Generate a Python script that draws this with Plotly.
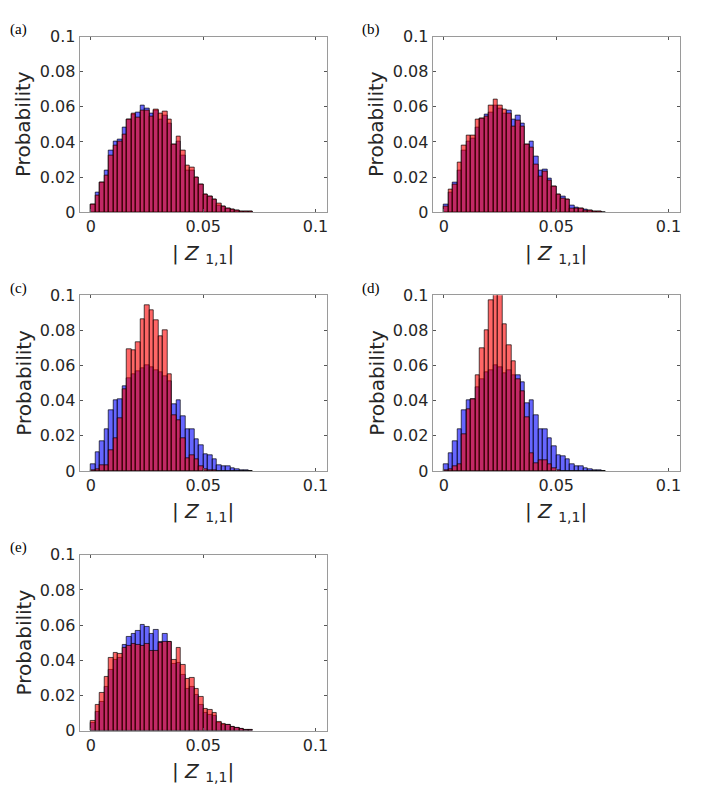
import plotly.graph_objects as go

# bin edges 0, 0.002, ... ; values are probabilities per bin
bin_width = 0.002
n_bins = 36
bin_centers = [bin_width * (k + 0.5) for k in range(n_bins)]

blue_a = [0.0046, 0.011, 0.017, 0.0237, 0.035, 0.040, 0.0415, 0.048, 0.053, 0.0556,
          0.057, 0.0606, 0.059, 0.056, 0.058, 0.0528, 0.055, 0.0507, 0.0383, 0.040,
          0.032, 0.024, 0.024, 0.020, 0.0157, 0.0102, 0.0087, 0.007, 0.0041, 0.0031,
          0.0019, 0.0013, 0.0009, 0.0006, 0.0004, 0.0002]
red_a = [0.0046, 0.0094, 0.017, 0.021, 0.032, 0.038, 0.040, 0.0444, 0.053, 0.0563,
         0.054, 0.0578, 0.0578, 0.0544, 0.0585, 0.0561, 0.0572, 0.0526, 0.0383, 0.0433,
         0.035, 0.0263, 0.0256, 0.020, 0.0157, 0.0102, 0.0087, 0.007, 0.0052, 0.0033,
         0.002, 0.0013, 0.0009, 0.0006, 0.0004, 0.0002]

blue_b = [0.0044, 0.011, 0.017, 0.0237, 0.035, 0.040, 0.0417, 0.048, 0.0533, 0.0556,
          0.0569, 0.0606, 0.059, 0.056, 0.0578, 0.053, 0.055, 0.0505, 0.0383, 0.0404,
          0.0317, 0.0237, 0.0244, 0.0193, 0.0148, 0.010, 0.0087, 0.007, 0.0037, 0.0026,
          0.0022, 0.0013, 0.0011, 0.0005, 0.0003, 0.0001]
red_b = [0.0033, 0.013, 0.016, 0.0283, 0.038, 0.0439, 0.0439, 0.053, 0.0533, 0.0544,
         0.0606, 0.0643, 0.061, 0.0583, 0.056, 0.0485, 0.052, 0.0485, 0.0383, 0.037,
         0.0272, 0.0204, 0.023, 0.018, 0.0148, 0.010, 0.008, 0.007, 0.0022, 0.0019,
         0.002, 0.0007, 0.0011, 0.0005, 0.0003, 0.0001]

blue_c = [0.0041, 0.0106, 0.0167, 0.0237, 0.0343, 0.040, 0.041, 0.048, 0.053, 0.055,
          0.0565, 0.0583, 0.060, 0.059, 0.0574, 0.0563, 0.0537, 0.0513, 0.0378, 0.040,
          0.0313, 0.0237, 0.024, 0.018, 0.0144, 0.0096, 0.0087, 0.0069, 0.0035, 0.0024,
          0.0024, 0.0013, 0.0009, 0.0005, 0.0003, 0.0001]
red_c = [0.0003, 0.001, 0.003, 0.003, 0.012, 0.0185, 0.030, 0.0467, 0.0694, 0.0685,
         0.0731, 0.0865, 0.0944, 0.0913, 0.0857, 0.0765, 0.080, 0.0552, 0.0315, 0.0287,
         0.0185, 0.0074, 0.0087, 0.0065, 0.0024, 0.001, 0.0005, 0.0002, 0.0, 0.0,
         0.0, 0.0, 0.0, 0.0, 0.0, 0.0]

blue_d = [0.0037, 0.0102, 0.0167, 0.0237, 0.0346, 0.040, 0.041, 0.0478, 0.0524, 0.056,
          0.0574, 0.060, 0.059, 0.0556, 0.0574, 0.0543, 0.0546, 0.0504, 0.0385, 0.040,
          0.0315, 0.0235, 0.024, 0.0189, 0.0139, 0.0091, 0.0083, 0.0069, 0.0037, 0.0024,
          0.0024, 0.0013, 0.0009, 0.0005, 0.0003, 0.0001]
red_d = [0.0003, 0.001, 0.0028, 0.0037, 0.021, 0.035, 0.041, 0.0546, 0.0698, 0.080,
         0.097, 0.102, 0.104, 0.0833, 0.0713, 0.0626, 0.0524, 0.0454, 0.0306, 0.0102,
         0.0046, 0.0061, 0.0061, 0.0037, 0.0013, 0.0003, 0.0, 0.0, 0.0, 0.0,
         0.0, 0.0, 0.0, 0.0, 0.0, 0.0]

blue_e = [0.0046, 0.0107, 0.0163, 0.0246, 0.0348, 0.0404, 0.0413, 0.0487, 0.0533, 0.0548,
          0.0569, 0.0604, 0.0593, 0.0548, 0.0576, 0.0506, 0.0548, 0.0506, 0.038, 0.0385,
          0.0317, 0.0237, 0.0246, 0.0204, 0.0144, 0.0098, 0.0089, 0.0083, 0.0043, 0.003,
          0.003, 0.0019, 0.0015, 0.0009, 0.0005, 0.0003]
red_e = [0.0056, 0.0144, 0.0213, 0.0306, 0.0413, 0.0444, 0.0437, 0.0472, 0.0483, 0.0496,
         0.0487, 0.0481, 0.0496, 0.0454, 0.0456, 0.0502, 0.0506, 0.0506, 0.040, 0.0469,
         0.0376, 0.0293, 0.0298, 0.0237, 0.019, 0.0126, 0.0117, 0.0098, 0.0052, 0.0037,
         0.0033, 0.0019, 0.0015, 0.0009, 0.0005, 0.0003]

panels = [("(a)", blue_a, red_a), ("(b)", blue_b, red_b), ("(c)", blue_c, red_c),
          ("(d)", blue_d, red_d), ("(e)", blue_e, red_e)]

W, H = 707, 796
col_x = [(71.75, 319.25), (425.25, 672.75)]   # pixel left/right of axes boxes
row_y = [(20, 200), (285, 465), (551, 731)]   # pixel top/bottom

font = "DejaVu Sans"
txt = "#262626"

fig = go.Figure()
annotations = []
layout_axes = {}

for i, (letter, blue, red) in enumerate(panels):
    r, c = divmod(i, 2)
    x0, x1 = col_x[c]
    y0, y1 = row_y[r]
    n = "" if i == 0 else str(i + 1)
    for vals, col in [(blue, "rgba(0,0,255,0.6)"), (red, "rgba(255,0,0,0.6)")]:
        fig.add_trace(go.Bar(
            x=bin_centers, y=vals, width=bin_width,
            marker=dict(color=col, line=dict(color="rgba(0,0,0,0.85)", width=0.8)),
            xaxis="x" + n, yaxis="y" + n, showlegend=False,
        ))
    common = dict(showline=True, mirror="ticks", linecolor="#9a9a9a", linewidth=1,
                  ticks="inside", ticklen=3, tickcolor="#555", showgrid=False,
                  zeroline=False, tickfont=dict(family=font, size=16, color=txt))
    layout_axes["xaxis" + n] = dict(
        common, domain=[x0 / W, x1 / W], range=[-0.005, 0.105],
        tickvals=[0, 0.05, 0.1], ticktext=["0", "0.05", "0.1"],
        anchor="y" + n)
    layout_axes["yaxis" + n] = dict(
        common, domain=[1 - y1 / H, 1 - y0 / H], range=[0, 0.1],
        tickvals=[0, 0.02, 0.04, 0.06, 0.08, 0.1],
        ticktext=["0", "0.02", "0.04", "0.06", "0.08", "0.1"],
        anchor="x" + n)

    annotations.append(dict(
        text=letter, x=(0 if c == 0 else 352) / W, y=1 - (y0 - 18) / H,
        xref="paper", yref="paper", xanchor="left", yanchor="top", showarrow=False,
        font=dict(family="Liberation Serif", size=15, color="black")))
    annotations.append(dict(
        text="Probability", x=(x0 - 56) / W, y=1 - (y0 + y1) / 2 / H, textangle=-90,
        xref="paper", yref="paper", xanchor="center", yanchor="middle", showarrow=False,
        font=dict(family=font, size=20, color=txt)))
    annotations.append(dict(
        text="| <i>Z</i> <sub>1,1</sub>|", x=(x0 + x1) / 2 / W, y=1 - (y1 + 27) / H,
        xref="paper", yref="paper", xanchor="center", yanchor="top", showarrow=False,
        font=dict(family=font, size=20, color=txt)))

fig.update_layout(
    width=W, height=H, margin=dict(l=0, r=0, t=0, b=0),
    paper_bgcolor="white", plot_bgcolor="white",
    barmode="overlay", bargap=0,
    annotations=annotations, **layout_axes,
)

fig.write_html("out.html")
